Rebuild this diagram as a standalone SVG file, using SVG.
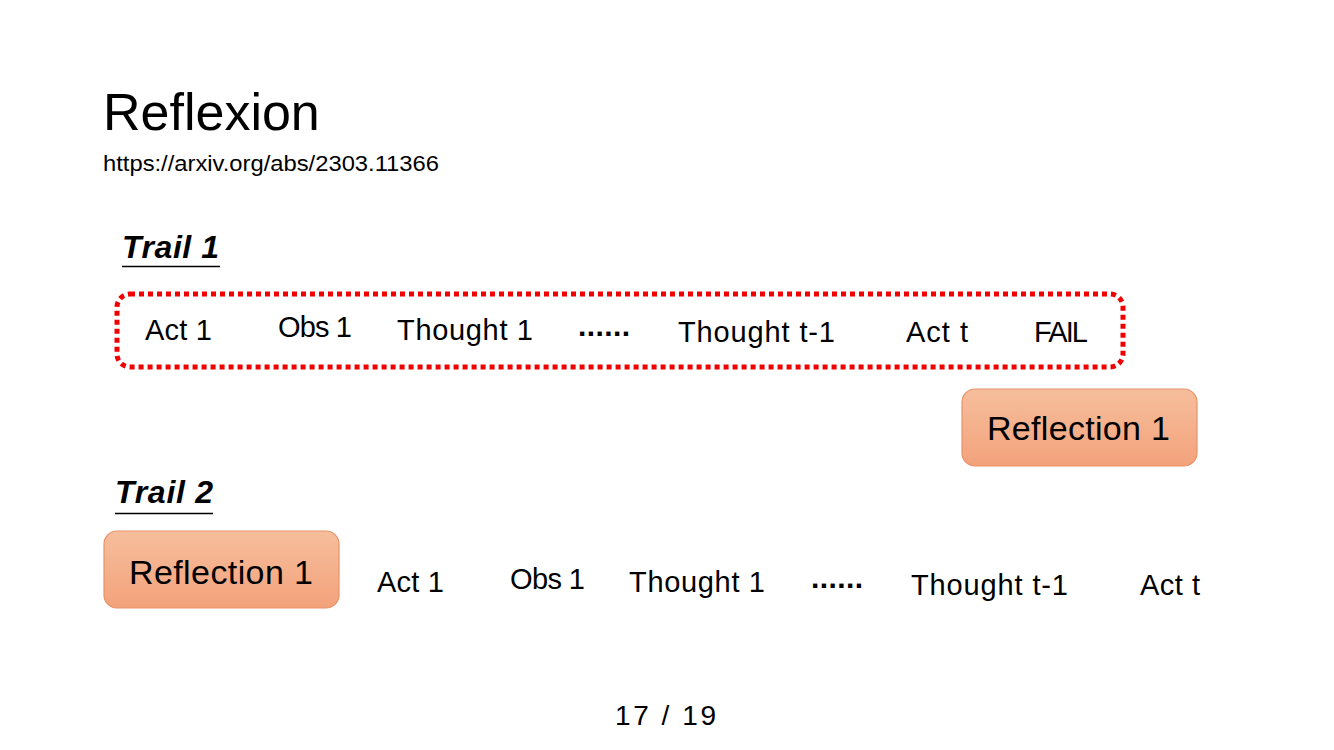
<svg xmlns="http://www.w3.org/2000/svg" width="1334" height="750" viewBox="0 0 1334 750">
<style>
text{font-family:"Liberation Sans",Arial,sans-serif;fill:#000}
.t{font-size:29px}
.dots{font-size:30px;font-weight:bold}
.trail{font-size:32px;font-weight:bold;font-style:italic}
.refl{font-size:34px}
.box{fill:url(#g);stroke:#E8926A;stroke-width:1.2}
</style>
<defs>
<linearGradient id="g" x1="0" y1="0" x2="0" y2="1">
<stop offset="0" stop-color="#F6BE9C"/>
<stop offset="1" stop-color="#F3A27B"/>
</linearGradient>
</defs>
<rect width="1334" height="750" fill="#fff"/>
<text x="103" y="130" font-size="52">Reflexion</text>
<text x="103" y="171" font-size="22" textLength="336" lengthAdjust="spacingAndGlyphs">https://arxiv.org/abs/2303.11366</text>

<g id="trail1-label">
<text class="trail" x="122" y="258" textLength="97">Trail 1</text>
<line x1="122" y1="266.5" x2="220" y2="266.5" stroke="#000" stroke-width="1.5"/>
</g>
<g id="trail1">
<rect x="117" y="294" width="1006" height="73" rx="13" fill="none" stroke="#F00000" stroke-width="5" stroke-dasharray="5 4"/>
<text class="t" x="145" y="340" textLength="67">Act 1</text>
<text class="t" x="278" y="337" textLength="74">Obs 1</text>
<text class="t" x="397" y="340" textLength="136">Thought 1</text>
<text class="dots" x="578" y="336" textLength="52">......</text>
<text class="t" x="678" y="342" textLength="157">Thought t-1</text>
<text class="t" x="906" y="342" textLength="62">Act t</text>
<text class="t" x="1034" y="342" textLength="54">FAIL</text>
</g>
<g id="reflection-top">
<rect class="box" x="962" y="389" width="235" height="77" rx="13"/>
<text class="refl" x="987" y="440" textLength="183">Reflection 1</text>
</g>

<g id="trail2-label">
<text class="trail" x="115" y="503" textLength="98">Trail 2</text>
<line x1="115" y1="513.5" x2="213" y2="513.5" stroke="#000" stroke-width="1.5"/>
</g>
<g id="reflection-bottom">
<rect class="box" x="104" y="531" width="235" height="77" rx="13"/>
<text class="refl" x="129" y="584" textLength="184">Reflection 1</text>
</g>
<g id="trail2">
<text class="t" x="377" y="592" textLength="67">Act 1</text>
<text class="t" x="510" y="589" textLength="75">Obs 1</text>
<text class="t" x="629" y="592" textLength="136">Thought 1</text>
<text class="dots" x="811" y="588" textLength="52">......</text>
<text class="t" x="911" y="595" textLength="157">Thought t-1</text>
<text class="t" x="1140" y="595" textLength="60">Act t</text>
</g>
<text x="615" y="725" font-size="28" textLength="101">17 / 19</text>
</svg>
